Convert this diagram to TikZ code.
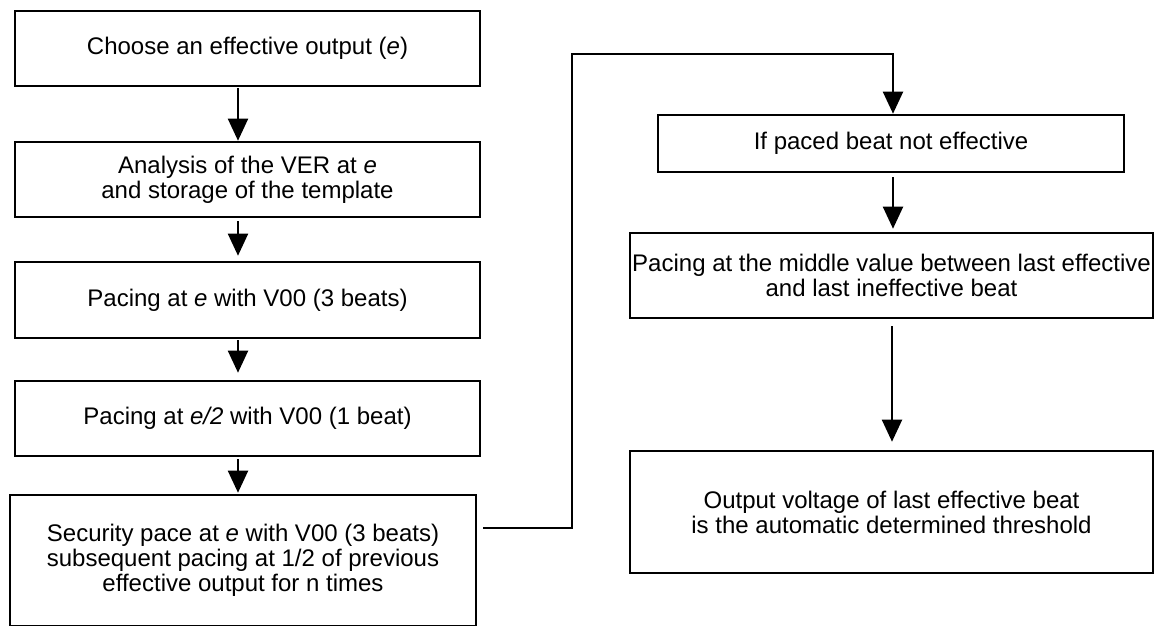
\documentclass[tikz,border=0pt]{standalone}
\usepackage{fontspec}
\setmainfont{Liberation Sans}
\usetikzlibrary{arrows.meta,calc}
\begin{document}
\begin{tikzpicture}[x=1pt,y=-1pt,
  box/.style={draw=black,line width=2.6pt,rectangle,inner sep=0pt,align=center,
    font=\fontsize{24}{25}\selectfont},
  arr/.style={line width=2pt,-{Triangle[width=20pt,length=22pt]}}]
\useasboundingbox (0,0) rectangle (1159,625);
% left column
\node[box,minimum width=465pt,minimum height=75pt] (b1) at (247.5,48.5)
  {Choose an effective output (\textit{e})};
\node[box,minimum width=465pt,minimum height=75pt] (b2) at (247.5,179.5)
  {Analysis of the VER at \textit{e}\\and storage of the template};
\node[box,minimum width=465pt,minimum height=76pt] (b3) at (247.5,300)
  {Pacing at \textit{e} with V00 (3 beats)};
\node[box,minimum width=465pt,minimum height=75pt] (b4) at (247.5,418.5)
  {Pacing at \textit{e/2} with V00 (1 beat)};
\node[box,minimum width=466pt,minimum height=131pt] (b5) at (243,560.5)
  {Security pace at \textit{e} with V00 (3 beats)\\subsequent pacing at 1/2 of previous\\effective output for n times};
% right column
\node[box,minimum width=466pt,minimum height=57pt] (b6) at (891,143.5)
  {If paced beat not effective};
\node[box,minimum width=523pt,minimum height=85pt] (b7) at (891.5,275.5)
  {Pacing at the middle value between last effective\\and last ineffective beat};
\node[box,minimum width=523pt,minimum height=122pt] (b8) at (891.5,512)
  {Output voltage of last effective beat\\is the automatic determined threshold};
% arrows
\draw[arr] ([shift={(-9.5pt,-1pt)}]b1.south) -- ([xshift=-9.5pt]b2.north);
\draw[arr] ([shift={(-9.5pt,-3pt)}]b2.south) -- ([shift={(-9.5pt,5pt)}]b3.north);
\draw[arr] ([shift={(-9.5pt,-1pt)}]b3.south) -- ([shift={(-9.5pt,7pt)}]b4.north);
\draw[arr] ([shift={(-9.5pt,-2pt)}]b4.south) -- ([shift={(-5pt,1pt)}]b5.north);
\coordinate (bend) at (572,54);
\draw[arr] ([shift={(6pt,32.5pt)}]b5.east) -| (bend) -| ([xshift=2pt]b6.north);
\draw[arr] ([shift={(2pt,-4pt)}]b6.south) -- ([shift={(1.5pt,3pt)}]b7.north);
\draw[arr] ([shift={(0.5pt,-7pt)}]b7.south) -- ([shift={(0.5pt,8pt)}]b8.north);
\end{tikzpicture}
\end{document}
